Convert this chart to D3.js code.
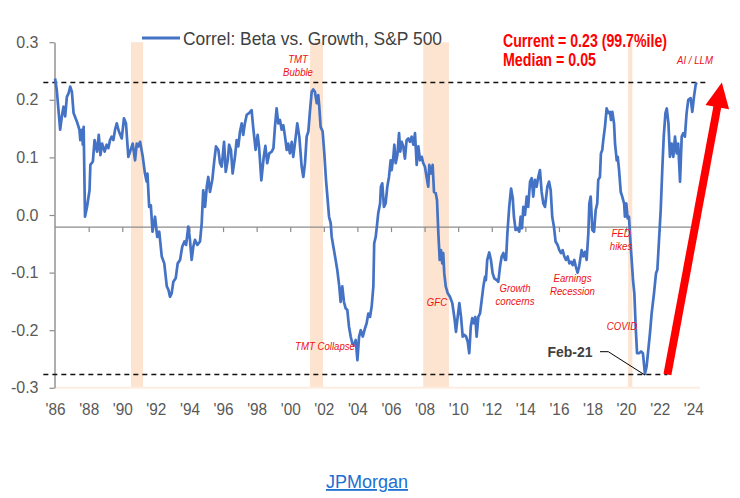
<!DOCTYPE html>
<html><head><meta charset="utf-8">
<script src="https://cdn.jsdelivr.net/npm/d3@7/dist/d3.min.js"></script>
<style>
html,body{margin:0;padding:0;background:#fff;}
svg{display:block;}
</style></head><body>
<svg id="chart" width="740" height="498"></svg>
<script>
// ---------------- DATA ----------------
const seriesName = "Correl: Beta vs. Growth, S&P 500";
const dates = [
1986.0,1986.1,1986.3,1986.4,1986.5,1986.6,1986.7,1986.8,1986.9,1987.0,1987.1,1987.3,1987.45,1987.5,1987.6,1987.65,1987.7,1987.78,1987.9,
1988.05,1988.1,1988.25,1988.35,1988.5,1988.6,1988.7,1988.8,1988.95,1989.07,1989.17,1989.27,1989.37,1989.47,1989.57,1989.67,1989.8,1989.97,
1990.1,1990.22,1990.36,1990.5,1990.62,1990.76,1990.86,1990.95,1991.06,1991.22,1991.35,1991.45,1991.5,1991.6,1991.7,1991.8,1991.95,
1992.08,1992.2,1992.35,1992.5,1992.65,1992.75,1992.84,1992.94,1993.04,1993.18,1993.3,1993.44,1993.57,1993.7,1993.8,1993.93,
1994.03,1994.13,1994.23,1994.33,1994.47,1994.63,1994.73,1994.82,1994.93,1995.03,1995.12,1995.22,1995.36,1995.48,1995.58,1995.72,1995.82,1995.92,
1996.06,1996.16,1996.28,1996.36,1996.47,1996.57,1996.71,1996.81,1996.91,1997.01,1997.11,1997.2,1997.3,1997.41,1997.55,1997.7,1997.8,1997.94,
1998.06,1998.14,1998.28,1998.42,1998.52,1998.63,1998.75,1998.9,1999.0,1999.09,1999.19,1999.29,1999.39,1999.49,1999.59,1999.69,1999.79,1999.88,1999.98,
2000.09,2000.18,2000.28,2000.42,2000.54,2000.68,2000.78,2000.88,2000.98,2001.08,2001.18,2001.28,2001.37,2001.47,2001.58,2001.67,2001.73,2001.81,2001.93,
2002.03,2002.13,2002.23,2002.31,2002.41,2002.47,2002.57,2002.67,2002.8,2002.92,2003.0,2003.1,2003.2,2003.3,2003.4,2003.5,2003.6,2003.7,2003.8,2003.9,
2004.0,2004.1,2004.2,2004.32,2004.45,2004.55,2004.65,2004.75,2004.85,2004.95,2005.0,2005.09,2005.18,2005.24,2005.35,2005.4,2005.48,2005.58,2005.68,2005.78,2005.88,2005.98,
2006.04,2006.14,2006.2,2006.28,2006.38,2006.48,2006.55,2006.64,2006.73,2006.83,2006.93,2007.03,2007.13,2007.23,2007.33,2007.43,2007.53,2007.63,2007.73,2007.83,2007.92,
2008.02,2008.12,2008.22,2008.28,2008.38,2008.48,2008.56,2008.66,2008.74,2008.82,2008.9,2008.98,2009.05,2009.11,2009.17,2009.26,2009.38,2009.51,2009.65,2009.77,2009.87,2009.97,
2010.07,2010.17,2010.27,2010.36,2010.47,2010.57,2010.66,2010.75,2010.84,2010.94,2011.02,2011.1,2011.2,2011.3,2011.4,2011.5,2011.6,2011.65,2011.73,2011.85,2011.95,
2012.05,2012.15,2012.3,2012.39,2012.49,2012.59,2012.69,2012.79,2012.85,2012.93,2013.04,2013.15,2013.25,2013.32,2013.42,2013.52,2013.64,2013.72,2013.8,2013.88,2013.98,
2014.08,2014.17,2014.28,2014.38,2014.47,2014.57,2014.67,2014.77,2014.87,2014.97,2015.07,2015.17,2015.31,2015.41,2015.51,2015.6,2015.7,2015.8,2015.92,
2016.02,2016.12,2016.22,2016.32,2016.42,2016.52,2016.62,2016.72,2016.82,2016.91,2017.01,2017.11,2017.2,2017.35,2017.45,2017.55,2017.65,2017.75,2017.81,2017.89,2017.99,
2018.09,2018.19,2018.28,2018.34,2018.44,2018.5,2018.58,2018.64,2018.74,2018.84,2018.94,2019.04,2019.1,2019.18,2019.28,2019.34,2019.44,2019.5,2019.58,2019.68,2019.77,2019.88,2019.93,
2020.01,2020.09,2020.17,2020.25,2020.33,2020.41,2020.49,2020.57,2020.65,2020.77,2020.89,2021.0,2021.12,2021.22,2021.32,2021.42,2021.52,2021.66,2021.78,2021.86,2021.96,
2022.06,2022.16,2022.24,2022.34,2022.42,2022.52,2022.61,2022.71,2022.81,2022.91,2023.01,2023.1,2023.21,2023.31,2023.4,2023.5,2023.6,2023.7,2023.84,2023.94,2024.04,2024.14,2024.2
];
const corr = [
0.237,0.217,0.148,0.171,0.188,0.171,0.205,0.211,0.223,0.214,0.177,0.162,0.148,0.130,0.148,0.122,0.153,-0.003,0.014,
0.043,0.087,0.093,0.130,0.110,0.139,0.104,0.124,0.110,0.122,0.116,0.130,0.136,0.130,0.148,0.159,0.145,0.133,
0.168,0.159,0.101,0.113,0.124,0.095,0.124,0.119,0.127,0.101,0.072,0.058,0.072,0.014,0.017,-0.029,-0.003,
-0.038,-0.029,-0.072,-0.084,-0.124,-0.130,-0.142,-0.136,-0.116,-0.110,-0.084,-0.078,-0.055,-0.046,-0.052,-0.020,
-0.043,-0.078,-0.055,-0.043,-0.052,-0.046,-0.014,0.043,0.014,0.049,0.066,0.040,0.061,0.095,0.119,0.113,0.090,0.084,
0.127,0.075,0.095,0.122,0.113,0.072,0.101,0.130,0.119,0.145,0.159,0.139,0.159,0.174,0.177,0.182,0.151,0.113,
0.139,0.120,0.060,0.100,0.120,0.090,0.107,0.110,0.116,0.153,0.185,0.159,0.165,0.148,0.156,0.136,0.113,0.124,0.107,
0.127,0.101,0.124,0.159,0.136,0.084,0.066,0.090,0.136,0.145,0.182,0.214,0.218,0.214,0.194,0.208,0.188,0.153,0.145,
0.107,0.061,0.026,-0.003,-0.014,-0.038,-0.055,-0.072,-0.095,-0.124,-0.151,-0.124,-0.151,-0.162,-0.165,-0.194,-0.211,-0.223,-0.226,-0.217,
-0.252,-0.211,-0.200,-0.211,-0.197,-0.188,-0.171,-0.177,-0.159,-0.124,-0.049,-0.038,-0.014,0.003,0.020,0.049,0.055,0.014,0.020,0.049,0.066,0.095,
0.078,0.101,0.122,0.090,0.104,0.142,0.110,0.127,0.119,0.098,0.130,0.133,0.127,0.136,0.122,0.142,0.087,0.119,0.095,0.101,0.090,
0.084,0.066,0.049,0.087,0.072,0.087,0.040,0.038,0.026,-0.032,-0.078,-0.061,-0.084,-0.066,-0.101,-0.124,-0.136,-0.142,-0.153,-0.177,-0.203,-0.177,
-0.153,-0.177,-0.211,-0.208,-0.211,-0.220,-0.240,-0.194,-0.179,-0.188,-0.177,-0.211,-0.177,-0.171,-0.148,-0.124,-0.107,-0.113,-0.078,-0.065,-0.078,
-0.101,-0.110,-0.113,-0.116,-0.090,-0.072,-0.066,-0.078,-0.078,-0.032,0.014,0.046,0.029,-0.003,-0.026,-0.023,-0.029,-0.003,-0.023,0.014,0.000,
0.032,0.014,0.058,0.064,0.032,0.061,0.049,0.066,0.078,0.040,0.020,0.014,0.049,0.058,0.043,-0.003,-0.020,-0.046,-0.052,
-0.061,-0.066,-0.061,-0.072,-0.078,-0.072,-0.084,-0.081,-0.087,-0.078,-0.090,-0.100,-0.090,-0.061,-0.072,-0.064,-0.078,-0.032,0.020,0.032,-0.026,
-0.029,0.009,0.020,0.061,0.066,0.107,0.113,0.130,0.153,0.185,0.177,0.179,0.165,0.179,0.159,0.124,0.095,0.101,0.078,0.040,0.032,0.020,-0.003,
0.020,-0.006,-0.003,-0.043,-0.078,-0.113,-0.136,-0.194,-0.240,-0.240,-0.237,-0.240,-0.276,-0.263,-0.234,-0.205,-0.171,-0.136,-0.101,-0.095,-0.043,
0.009,0.084,0.136,0.177,0.185,0.159,0.101,0.124,0.101,0.136,0.107,0.124,0.058,0.136,0.142,0.136,0.177,0.200,0.203,0.179,0.205,0.226,0.230
];
const recessionStart = [1990.52, 2001.18, 2007.92, 2020.12];
const recessionEnd   = [1991.24, 2001.95, 2009.45, 2020.37];
const xTickYears  = [1986,1988,1990,1992,1994,1996,1998,2000,2002,2004,2006,2008,2010,2012,2014,2016,2018,2020,2022,2024];
const xTickLabels = ["'86","'88","'90","'92","'94","'96","'98","'00","'02","'04","'06","'08","'10","'12","'14","'16","'18","'20","'22","'24"];
const yTickValues = [0.3,0.2,0.1,0.0,-0.1,-0.2,-0.3];
const yTickLabels = ["0.3","0.2","0.1","0.0","-0.1","-0.2","-0.3"];
const axisCrossValue = -0.021;
const currentValue = 0.23;
const lowValue = -0.277;
const lowDate = 2021.12;
const arrowBaseDate = 2022.46;
const arrowTipDate = 2025.7;

// ---------------- DRAW ----------------
const svg = d3.select("#chart");
const x = d3.scaleLinear().domain([1986, 2024]).range([55.1, 693.3]);
const y = d3.scaleLinear().domain([-0.3, 0.3]).range([387.8, 42.2]);
const SANS = "'Liberation Sans',Arial,sans-serif";

// recession bands
svg.append("g").selectAll("rect").data(recessionStart).join("rect")
  .attr("x", (d,i) => x(d))
  .attr("width", (d,i) => x(recessionEnd[i]) - x(d))
  .attr("y", y(0.3))
  .attr("height", y(-0.3) - y(0.3))
  .attr("fill", "#fde4d0");

// faint base line
svg.append("line")
  .attr("x1", x(1986)).attr("x2", x(2024.4))
  .attr("y1", y(-0.3)).attr("y2", y(-0.3))
  .attr("stroke", "#fdece0").attr("stroke-width", 2);

// x axis line at crossing value with ticks
const xTicksAxis = d3.axisBottom(x).tickValues(xTickYears.slice(1)).tickSize(5).tickSizeOuter(0).tickFormat("");
const gxt = svg.append("g").attr("transform", `translate(0,${y(axisCrossValue)})`).call(xTicksAxis);
gxt.select(".domain").attr("d", `M${x(1986)},0H${x(2024.15)}`).attr("stroke", "#8c8c8c").attr("stroke-width", 1.4);
gxt.selectAll(".tick line").attr("stroke", "#8c8c8c").attr("stroke-width", 1.2);

// x labels at bottom
const xLabAxis = d3.axisBottom(x).tickValues(xTickYears).tickSize(0).tickPadding(16)
  .tickFormat((d,i) => xTickLabels[i]);
const gxl = svg.append("g").attr("transform", `translate(0,${y(-0.3)})`).call(xLabAxis);
gxl.select(".domain").remove();
gxl.selectAll("text").attr("font-family", SANS).attr("font-size", 16).attr("fill", "#595959")
  .attr("textLength", 20).attr("lengthAdjust", "spacingAndGlyphs");

// y axis
const yAxis = d3.axisLeft(y).tickValues(yTickValues).tickSize(5).tickSizeOuter(0).tickPadding(11)
  .tickFormat((d,i) => yTickLabels[i]);
const gy = svg.append("g").attr("transform", `translate(${x(1986)-0.6},0)`).call(yAxis);
gy.select(".domain").attr("stroke", "#8c8c8c").attr("stroke-width", 1.4);
gy.selectAll(".tick line").attr("stroke", "#8c8c8c").attr("stroke-width", 1.2);
gy.selectAll("text").attr("font-family", SANS).attr("font-size", 16).attr("fill", "#595959");

// dashed reference lines
svg.append("line")
  .attr("x1", x(1985.3)).attr("x2", x(2024.8))
  .attr("y1", y(currentValue)).attr("y2", y(currentValue))
  .attr("stroke", "#111").attr("stroke-width", 1.5).attr("stroke-dasharray", "5,4");
svg.append("line")
  .attr("x1", x(1985.3)).attr("x2", x(arrowBaseDate))
  .attr("y1", y(lowValue)).attr("y2", y(lowValue))
  .attr("stroke", "#111").attr("stroke-width", 1.5).attr("stroke-dasharray", "5,4");

// series
const line = d3.line().x((d,i) => x(dates[i])).y(d => y(d));
svg.append("path").datum(corr)
  .attr("d", line)
  .attr("fill", "none").attr("stroke", "#4472c4").attr("stroke-width", 2.7)
  .attr("stroke-linejoin", "round");

// red arrow
{
  const bx = x(arrowBaseDate), by = y(lowValue);
  const tx = x(arrowTipDate), ty = y(currentValue);
  const dx = tx - bx, dy = ty - by, len = Math.hypot(dx, dy);
  const ux = dx/len, uy = dy/len, px = -uy, py = ux;
  const headLen = 25, headW = 12;
  const hx = tx - ux*headLen, hy = ty - uy*headLen;
  svg.append("line").attr("x1", bx).attr("y1", by).attr("x2", hx + ux*2).attr("y2", hy + uy*2)
    .attr("stroke", "#ff0000").attr("stroke-width", 8);
  svg.append("polygon")
    .attr("points", [[tx,ty],[hx+px*headW, hy+py*headW],[hx-px*headW, hy-py*headW]].map(p => p.join(",")).join(" "))
    .attr("fill", "#ff0000");
}

// Feb-21 leader
svg.append("path")
  .attr("d", `M600,351.7H608.3L${x(lowDate)},${y(lowValue)+0.5}`)
  .attr("fill", "none").attr("stroke", "#000").attr("stroke-width", 1);
svg.append("text").attr("x", 570).attr("y", 357.3).attr("text-anchor", "middle")
  .attr("font-family", SANS).attr("font-weight", "bold").attr("font-size", 15)
  .attr("fill", "#404040").attr("textLength", 45).attr("lengthAdjust", "spacingAndGlyphs").text("Feb-21");

// legend
svg.append("line").attr("x1", 142).attr("x2", 180).attr("y1", 38).attr("y2", 38)
  .attr("stroke", "#4472c4").attr("stroke-width", 3);
svg.append("text").attr("x", 183).attr("y", 45).attr("font-family", SANS).attr("font-size", 19)
  .attr("fill", "#404040").attr("textLength", 259).attr("lengthAdjust", "spacingAndGlyphs").text(seriesName);

// current / median
svg.append("text").attr("x", 503).attr("y", 46.7).attr("font-family", SANS).attr("font-weight", "bold")
  .attr("font-size", 18).attr("fill", "#ff0000").attr("textLength", 164).attr("lengthAdjust", "spacingAndGlyphs")
  .text("Current = 0.23 (99.7%ile)");
svg.append("text").attr("x", 503).attr("y", 65.7).attr("font-family", SANS).attr("font-weight", "bold")
  .attr("font-size", 18).attr("fill", "#ff0000").attr("textLength", 93).attr("lengthAdjust", "spacingAndGlyphs")
  .text("Median = 0.05");

// red italic annotations (slightly condensed)
const ann = [
  {lines:["TMT","Bubble"], x:298, y:63},
  {lines:["AI / LLM"], x:695, y:64.3},
  {lines:["TMT Collapse"], x:325, y:350},
  {lines:["GFC"], x:437, y:306},
  {lines:["Growth","concerns"], x:515, y:292.3},
  {lines:["Earnings","Recession"], x:572.5, y:281.7},
  {lines:["FED","hikes"], x:621, y:237.3},
  {lines:["COVID"], x:622, y:330}
];
ann.forEach(a => {
  const g = svg.append("g").attr("transform", `translate(${a.x},${a.y}) scale(0.89,1)`);
  const t = g.append("text").attr("text-anchor", "middle").attr("font-family", SANS)
    .attr("font-style", "italic").attr("font-size", 10.8).attr("fill", "#ee1111");
  a.lines.forEach((l,i) => t.append("tspan").attr("x", 0).attr("y", i*13.2).text(l));
});

// source link
svg.append("text").attr("x", 367).attr("y", 488).attr("text-anchor", "middle")
  .attr("font-family", SANS).attr("font-size", 18).attr("fill", "#1d6fd0")
  .attr("text-decoration", "underline").text("JPMorgan");
</script>
</body></html>
